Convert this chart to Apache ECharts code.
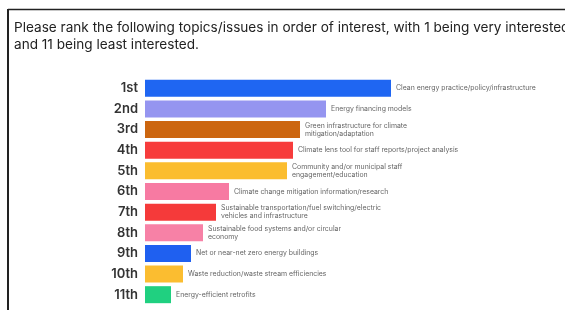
<!DOCTYPE html>
<html>
<head>
<meta charset="utf-8">
<script src="https://cdn.jsdelivr.net/npm/echarts@6/dist/echarts.min.js"></script>
<style>
  html, body { margin: 0; padding: 0; background: #fff; }
  #chart { width: 565px; height: 310px; }
</style>
</head>
<body>
<div id="chart"></div>
<script>
// ranks, top to bottom
const ranks = ['1st', '2nd', '3rd', '4th', '5th', '6th', '7th', '8th', '9th', '10th', '11th']
const topics = [
  'Clean energy practice/policy/infrastructure',
  'Energy financing models',
  'Green infrastructure for climate\nmitigation/adaptation',
  'Climate lens tool for staff reports/project analysis',
  'Community and/or municipal staff\nengagement/education',
  'Climate change mitigation information/research',
  'Sustainable transportation/fuel switching/electric\nvehicles and infrastructure',
  'Sustainable food systems and/or circular\neconomy',
  'Net or near-net zero energy buildings',
  'Waste reduction/waste stream efficiencies',
  'Energy-efficient retrofits'
]
// relative score (bar length)
const scores = [246, 181, 155, 148, 142, 84, 71, 58, 46, 38, 26]
const barColors = ['#1f66f2', '#9595f0', '#cc6610', '#f73c3c', '#fbbd2f', '#f77aa2',
  '#f53a3a', '#f781a6', '#1f60f0', '#fbbd30', '#20d080']

const chart = echarts.init(document.getElementById('chart'))
chart.setOption({
  animation: false,
  title: {
    text: 'Please rank the following topics/issues in order of interest, with 1 being very interested\nand 11 being least interested.',
    left: 9,
    top: 14,
    textStyle: { fontFamily: 'Inter', fontSize: 13.6, fontWeight: 'normal', color: '#222', lineHeight: 17 }
  },
  graphic: [
    { type: 'line', shape: { x1: 8, y1: 9.5, x2: 565, y2: 9.5 }, style: { stroke: '#222', lineWidth: 1.5 } },
    { type: 'line', shape: { x1: 8, y1: 9, x2: 8, y2: 310 }, style: { stroke: '#222', lineWidth: 2 } }
  ],
  grid: { left: 145, right: 20, top: 78, bottom: 5 },
  xAxis: { type: 'value', min: 0, max: 400, show: false },
  yAxis: {
    type: 'category',
    inverse: true,
    data: ranks,
    axisLine: { show: false },
    axisTick: { show: false },
    axisLabel: { margin: 7, fontFamily: 'Inter', fontSize: 13, fontWeight: 600, color: '#333' }
  },
  series: [{
    type: 'bar',
    barWidth: 17,
    data: scores.map((v, i) => ({ value: v, itemStyle: { color: barColors[i] } })),
    label: {
      show: true,
      position: 'right',
      distance: 5,
      formatter: p => topics[p.dataIndex],
      fontFamily: 'Inter',
      fontSize: 6.9,
      lineHeight: 8,
      color: '#666'
    }
  }]
})
</script>
</body>
</html>
